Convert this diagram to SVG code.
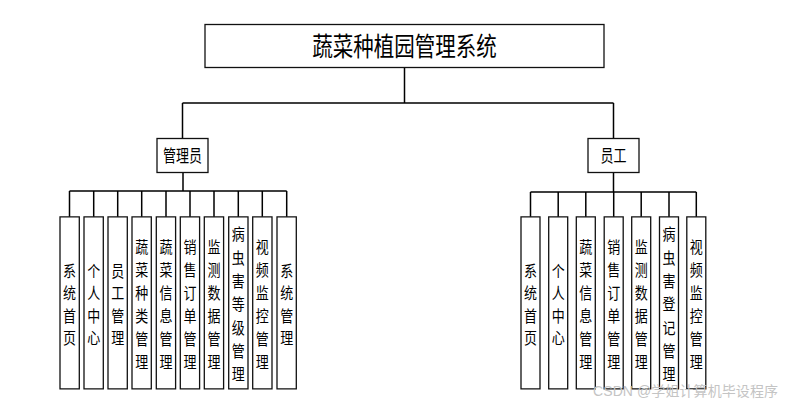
<svg xmlns="http://www.w3.org/2000/svg" width="786" height="406" viewBox="0 0 786 406">
<style>
.box{fill:#fff;stroke:#111;stroke-width:1.3}
.ln{fill:none;stroke:#000;stroke-width:1.5}
.t{font-family:"Noto Sans CJK SC","Noto Sans CJK JP",sans-serif;fill:#000;text-anchor:middle}
.v{font-size:13px}
</style>
<rect width="786" height="406" fill="#fff"/>
<g id="connectors">
<path class="ln" d="M404.5,67 V103 M182.5,103 H613.5 M182.5,103 V139 M613.5,103 V139"/>
<path class="ln" d="M183,172 V191 M69.5,191 H286.7 M69.5,191 V218 M93.7,191 V218 M117.7,191 V218 M141.7,191 V218 M166,191 V218 M190,191 V218 M214,191 V218 M238.3,191 V218 M262.3,191 V218 M286.7,191 V218"/>
<path class="ln" d="M613.5,172 V192 M530.5,192 H696.3 M530.5,192 V218 M558.2,192 V218 M585.8,192 V218 M613.7,192 V218 M641.2,192 V218 M669,192 V218 M696.3,192 V218"/>
</g>
<g id="root"><rect class="box" x="205" y="24.5" width="399" height="43"/><text class="t" x="404.5" y="54" font-size="20.5" transform="matrix(1,0,0,1.25,0,-11.5)">蔬菜种植园管理系统</text></g>
<g id="admin"><rect class="box" x="157" y="138.5" width="51" height="34"/><text class="t" x="182.5" y="160.2" font-size="13" transform="matrix(1,0,0,1.35,0,-54.25)">管理员</text></g>
<g id="staff"><rect class="box" x="588" y="138.5" width="51" height="34"/><text class="t" x="613.5" y="160.2" font-size="13" transform="matrix(1,0,0,1.35,0,-54.25)">员工</text></g>
<g transform="matrix(1,0,0,1.2,0,-60.8)">
<g id="a1"><rect class="box" x="60" y="231.33" width="19.3" height="143.33" vector-effect="non-scaling-stroke"/><text class="t v" x="69.6" y="281.1"><tspan x="69.6">系</tspan><tspan x="69.6" dy="18.75">统</tspan><tspan x="69.6" dy="18.75">首</tspan><tspan x="69.6" dy="18.75">页</tspan></text></g>
<g id="a2"><rect class="box" x="84" y="231.33" width="19.3" height="143.33" vector-effect="non-scaling-stroke"/><text class="t v" x="93.7" y="281.1"><tspan x="93.7">个</tspan><tspan x="93.7" dy="18.75">人</tspan><tspan x="93.7" dy="18.75">中</tspan><tspan x="93.7" dy="18.75">心</tspan></text></g>
<g id="a3"><rect class="box" x="108" y="231.33" width="19.3" height="143.33" vector-effect="non-scaling-stroke"/><text class="t v" x="117.7" y="281.1"><tspan x="117.7">员</tspan><tspan x="117.7" dy="18.75">工</tspan><tspan x="117.7" dy="18.75">管</tspan><tspan x="117.7" dy="18.75">理</tspan></text></g>
<g id="a4"><rect class="box" x="132" y="231.33" width="19.3" height="143.33" vector-effect="non-scaling-stroke"/><text class="t v" x="141.7" y="261.3"><tspan x="141.7">蔬</tspan><tspan x="141.7" dy="19.17">菜</tspan><tspan x="141.7" dy="19.17">种</tspan><tspan x="141.7" dy="19.17">类</tspan><tspan x="141.7" dy="19.17">管</tspan><tspan x="141.7" dy="19.17">理</tspan></text></g>
<g id="a5"><rect class="box" x="156.3" y="231.33" width="19.3" height="143.33" vector-effect="non-scaling-stroke"/><text class="t v" x="166" y="261.3"><tspan x="166">蔬</tspan><tspan x="166" dy="19.17">菜</tspan><tspan x="166" dy="19.17">信</tspan><tspan x="166" dy="19.17">息</tspan><tspan x="166" dy="19.17">管</tspan><tspan x="166" dy="19.17">理</tspan></text></g>
<g id="a6"><rect class="box" x="180.3" y="231.33" width="19.3" height="143.33" vector-effect="non-scaling-stroke"/><text class="t v" x="190" y="261.3"><tspan x="190">销</tspan><tspan x="190" dy="19.17">售</tspan><tspan x="190" dy="19.17">订</tspan><tspan x="190" dy="19.17">单</tspan><tspan x="190" dy="19.17">管</tspan><tspan x="190" dy="19.17">理</tspan></text></g>
<g id="a7"><rect class="box" x="204.3" y="231.33" width="19.3" height="143.33" vector-effect="non-scaling-stroke"/><text class="t v" x="214" y="261.3"><tspan x="214">监</tspan><tspan x="214" dy="19.17">测</tspan><tspan x="214" dy="19.17">数</tspan><tspan x="214" dy="19.17">据</tspan><tspan x="214" dy="19.17">管</tspan><tspan x="214" dy="19.17">理</tspan></text></g>
<g id="a8"><rect class="box" x="228.7" y="231.33" width="19.3" height="143.33" vector-effect="non-scaling-stroke"/><text class="t v" x="238.3" y="251"><tspan x="238.3">病</tspan><tspan x="238.3" dy="19.42">虫</tspan><tspan x="238.3" dy="19.42">害</tspan><tspan x="238.3" dy="19.42">等</tspan><tspan x="238.3" dy="19.42">级</tspan><tspan x="238.3" dy="19.42">管</tspan><tspan x="238.3" dy="19.42">理</tspan></text></g>
<g id="a9"><rect class="box" x="252.7" y="231.33" width="19.3" height="143.33" vector-effect="non-scaling-stroke"/><text class="t v" x="262.3" y="261.3"><tspan x="262.3">视</tspan><tspan x="262.3" dy="19.17">频</tspan><tspan x="262.3" dy="19.17">监</tspan><tspan x="262.3" dy="19.17">控</tspan><tspan x="262.3" dy="19.17">管</tspan><tspan x="262.3" dy="19.17">理</tspan></text></g>
<g id="a10"><rect class="box" x="277" y="231.33" width="19.3" height="143.33" vector-effect="non-scaling-stroke"/><text class="t v" x="286.7" y="281.1"><tspan x="286.7">系</tspan><tspan x="286.7" dy="18.75">统</tspan><tspan x="286.7" dy="18.75">管</tspan><tspan x="286.7" dy="18.75">理</tspan></text></g>
<g id="s1"><rect class="box" x="521" y="231.33" width="19" height="143.33" vector-effect="non-scaling-stroke"/><text class="t v" x="530.5" y="281.1"><tspan x="530.5">系</tspan><tspan x="530.5" dy="18.75">统</tspan><tspan x="530.5" dy="18.75">首</tspan><tspan x="530.5" dy="18.75">页</tspan></text></g>
<g id="s2"><rect class="box" x="548.7" y="231.33" width="19" height="143.33" vector-effect="non-scaling-stroke"/><text class="t v" x="558.2" y="281.1"><tspan x="558.2">个</tspan><tspan x="558.2" dy="18.75">人</tspan><tspan x="558.2" dy="18.75">中</tspan><tspan x="558.2" dy="18.75">心</tspan></text></g>
<g id="s3"><rect class="box" x="576.3" y="231.33" width="19" height="143.33" vector-effect="non-scaling-stroke"/><text class="t v" x="585.8" y="261.3"><tspan x="585.8">蔬</tspan><tspan x="585.8" dy="19.17">菜</tspan><tspan x="585.8" dy="19.17">信</tspan><tspan x="585.8" dy="19.17">息</tspan><tspan x="585.8" dy="19.17">管</tspan><tspan x="585.8" dy="19.17">理</tspan></text></g>
<g id="s4"><rect class="box" x="604.2" y="231.33" width="19" height="143.33" vector-effect="non-scaling-stroke"/><text class="t v" x="613.7" y="261.3"><tspan x="613.7">销</tspan><tspan x="613.7" dy="19.17">售</tspan><tspan x="613.7" dy="19.17">订</tspan><tspan x="613.7" dy="19.17">单</tspan><tspan x="613.7" dy="19.17">管</tspan><tspan x="613.7" dy="19.17">理</tspan></text></g>
<g id="s5"><rect class="box" x="631.7" y="231.33" width="19" height="143.33" vector-effect="non-scaling-stroke"/><text class="t v" x="641.2" y="261.3"><tspan x="641.2">监</tspan><tspan x="641.2" dy="19.17">测</tspan><tspan x="641.2" dy="19.17">数</tspan><tspan x="641.2" dy="19.17">据</tspan><tspan x="641.2" dy="19.17">管</tspan><tspan x="641.2" dy="19.17">理</tspan></text></g>
<g id="s6"><rect class="box" x="659.5" y="231.33" width="19" height="143.33" vector-effect="non-scaling-stroke"/><text class="t v" x="669" y="251"><tspan x="669">病</tspan><tspan x="669" dy="19.42">虫</tspan><tspan x="669" dy="19.42">害</tspan><tspan x="669" dy="19.42">登</tspan><tspan x="669" dy="19.42">记</tspan><tspan x="669" dy="19.42">管</tspan><tspan x="669" dy="19.42">理</tspan></text></g>
<g id="s7"><rect class="box" x="686.8" y="231.33" width="19" height="143.33" vector-effect="non-scaling-stroke"/><text class="t v" x="696.3" y="261.3"><tspan x="696.3">视</tspan><tspan x="696.3" dy="19.17">频</tspan><tspan x="696.3" dy="19.17">监</tspan><tspan x="696.3" dy="19.17">控</tspan><tspan x="696.3" dy="19.17">管</tspan><tspan x="696.3" dy="19.17">理</tspan></text></g>
</g>
<text x="593" y="396" font-family="'Liberation Sans','Noto Sans CJK SC',sans-serif" font-size="14" fill="#c4c4c4" textLength="185">CSDN @学姐计算机毕设程序</text>
</svg>
